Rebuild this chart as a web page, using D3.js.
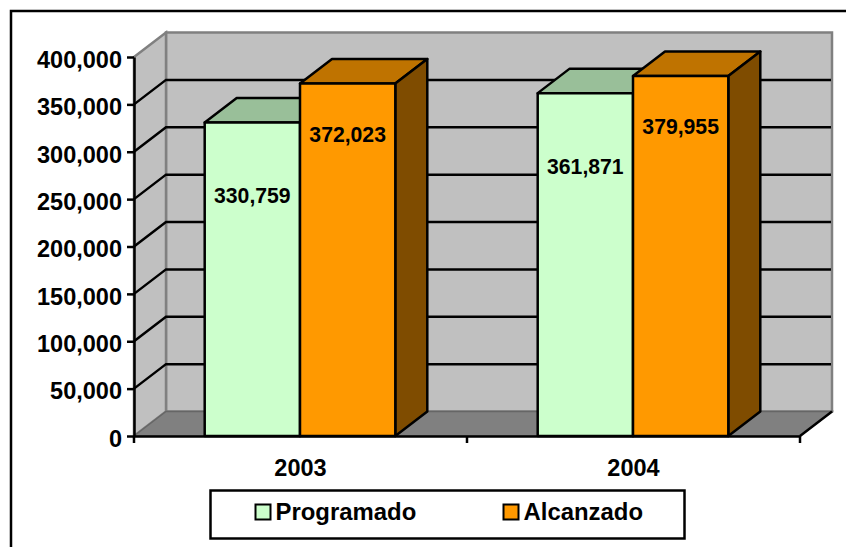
<!DOCTYPE html>
<html lang="es">
<head>
<meta charset="UTF-8">
<title>Programado vs Alcanzado</title>
<style>
  html, body { margin: 0; padding: 0; background: #fff; overflow: hidden; }
  svg { display: block; }
  text { font-family: 'Liberation Sans', Arial, sans-serif; font-weight: bold; fill: #000; }
  .axis path, .axis line { stroke: #000; stroke-width: 2.5px; }
  .axis text { font-size: 23.5px; font-family: 'Liberation Sans', Arial, sans-serif; }
</style>
</head>
<body>
<svg id="chart" width="846" height="547"></svg>
<script src="https://d3js.org/d3.v7.min.js"></script>
<script>
const years = ["2003", "2004"];
const seriesNames = ["Programado", "Alcanzado"];
const programado = [330759, 361871];
const alcanzado = [372023, 379955];
const yTicks = [0, 50000, 100000, 150000, 200000, 250000, 300000, 350000, 400000];

const frontColor = ["#ccffcc", "#ff9900"];
const topColor = ["#99bf99", "#bf7300"];
const sideColor = ["#7f9f7f", "#7f4c00"];

// front plane of the fake 3D box
const plotLeft = 134, plotRight = 800, plotBottom = 436, plotTop = 57;
const depthX = 32, depthY = 24.5;
const lineW = 2.5;
// labels are not centred in the bars, they sit a fixed distance below the bar top
const labelDrop = [73, 51];

const svg = d3.select("#chart");

const x = d3.scaleBand().domain(years).range([plotLeft, plotRight]);
const y = d3.scaleLinear().domain([0, 400000]).range([plotBottom, plotTop]);
const barPad = 70.7, barsWidth = 190.6;
const xInner = d3.scaleBand().domain(seriesNames).range([barPad, barPad + barsWidth]);

// frame runs off the right and bottom of the picture
svg.append("rect")
  .attr("x", 11).attr("y", 11).attr("width", 900).attr("height", 600)
  .attr("fill", "#fff").attr("stroke", "#000").attr("stroke-width", lineW);

// walls and floor
const poly = pts => pts.map(p => p.join(",")).join(" ");
const wallEdge = "#808080";

svg.append("polygon") // back wall
  .attr("points", poly([[plotLeft + depthX, plotTop - depthY], [plotRight + depthX, plotTop - depthY],
    [plotRight + depthX, plotBottom - depthY], [plotLeft + depthX, plotBottom - depthY]]))
  .attr("fill", "#c0c0c0").attr("stroke", wallEdge).attr("stroke-width", lineW);

svg.append("polygon") // side wall
  .attr("points", poly([[plotLeft, plotTop], [plotLeft + depthX, plotTop - depthY],
    [plotLeft + depthX, plotBottom - depthY], [plotLeft, plotBottom]]))
  .attr("fill", "#c0c0c0").attr("stroke", wallEdge).attr("stroke-width", lineW);

svg.append("polygon") // floor
  .attr("points", poly([[plotLeft, plotBottom], [plotLeft + depthX, plotBottom - depthY],
    [plotRight + depthX, plotBottom - depthY], [plotRight, plotBottom]]))
  .attr("fill", "#808080").attr("stroke", "#666").attr("stroke-width", 1.5);

svg.append("line") // right edge of the floor
  .attr("x1", plotRight).attr("y1", plotBottom)
  .attr("x2", plotRight + depthX).attr("y2", plotBottom - depthY)
  .attr("stroke", "#000").attr("stroke-width", lineW);

// gridlines, skip 0 and the top one
const gridTicks = yTicks.filter(d => d > 0 && d < 400000);
svg.append("g").selectAll("polyline")
  .data(gridTicks)
  .enter().append("polyline")
  .attr("fill", "none").attr("stroke", "#000").attr("stroke-width", lineW)
  .attr("points", d => poly([[plotLeft, y(d)], [plotLeft + depthX, y(d) - depthY], [plotRight + depthX - 1, y(d) - depthY]]));

// bars
const rows = years.flatMap((yr, i) => [
  { year: yr, s: 0, name: seriesNames[0], value: programado[i] },
  { year: yr, s: 1, name: seriesNames[1], value: alcanzado[i] }
]);

const bars = svg.append("g").selectAll("g")
  .data(rows)
  .enter().append("g")
  .attr("stroke", "#000").attr("stroke-width", lineW).attr("stroke-linejoin", "round");

const bx = d => x(d.year) + xInner(d.name);
const bw = xInner.bandwidth();

bars.append("polygon") // top
  .attr("fill", d => topColor[d.s])
  .attr("points", d => poly([[bx(d), y(d.value)], [bx(d) + depthX, y(d.value) - depthY],
    [bx(d) + bw + depthX, y(d.value) - depthY], [bx(d) + bw, y(d.value)]]));

bars.append("polygon") // side
  .attr("fill", d => sideColor[d.s])
  .attr("points", d => poly([[bx(d) + bw, y(d.value)], [bx(d) + bw + depthX, y(d.value) - depthY],
    [bx(d) + bw + depthX, plotBottom - depthY], [bx(d) + bw, plotBottom]]));

bars.append("rect") // front
  .attr("fill", d => frontColor[d.s])
  .attr("x", bx).attr("y", d => y(d.value))
  .attr("width", bw).attr("height", d => plotBottom - y(d.value));

// value labels on top of everything
svg.append("g").selectAll("text")
  .data(rows)
  .enter().append("text")
  .attr("x", d => bx(d) + bw / 2)
  .attr("y", d => y(d.value) + labelDrop[d.s])
  .attr("dy", "0.35em")
  .attr("text-anchor", "middle")
  .attr("font-size", 21.2)
  .text(d => d3.format(",")(d.value));

// axes
const yAxis = svg.append("g")
  .attr("class", "axis")
  .attr("transform", `translate(${plotLeft},0)`)
  .call(d3.axisLeft(y).tickValues(yTicks).tickFormat(d3.format(",")).tickSize(7).tickSizeOuter(0).tickPadding(5));

// tick labels hang a little below their ticks in the original
yAxis.selectAll(".tick text").attr("dy", "0.44em");

const xAxis = svg.append("g")
  .attr("class", "axis")
  .attr("transform", `translate(0,${plotBottom})`)
  .call(d3.axisBottom(x).tickSize(0).tickPadding(23));

// category ticks sit between the bands, not at their centres
xAxis.selectAll(".boundary")
  .data([...years.map(d => x(d)), plotRight])
  .enter().append("line")
  .attr("class", "boundary")
  .attr("x1", d => d).attr("x2", d => d)
  .attr("y1", 0).attr("y2", 7);

// legend
const legend = svg.append("g");
legend.append("rect")
  .attr("x", 210.5).attr("y", 490.5).attr("width", 474).attr("height", 48)
  .attr("fill", "#fff").attr("stroke", "#000").attr("stroke-width", lineW);

const legendX = d3.scaleOrdinal().domain(seriesNames).range([255.5, 503.5]);
const items = legend.selectAll("g.item")
  .data(seriesNames)
  .enter().append("g")
  .attr("class", "item")
  .attr("transform", d => `translate(${legendX(d)},504.5)`);

items.append("rect")
  .attr("width", 15).attr("height", 15)
  .attr("fill", (d, i) => frontColor[i])
  .attr("stroke", "#000").attr("stroke-width", lineW - 0.5);

items.append("text")
  .attr("x", 20).attr("y", 7.3)
  .attr("dy", "0.35em")
  .attr("font-size", 23.9)
  .text(d => d);
</script>
</body>
</html>
